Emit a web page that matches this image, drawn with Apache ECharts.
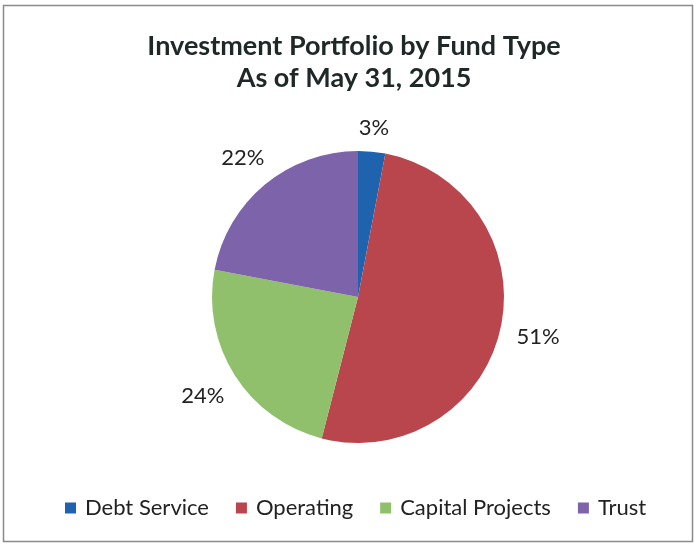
<!DOCTYPE html>
<html>
<head>
<meta charset="utf-8">
<script src="https://cdn.jsdelivr.net/npm/echarts@6/dist/echarts.min.js"></script>
<style>
  html, body { margin: 0; padding: 0; background: #fff; }
  #chart { width: 694px; height: 545px; }
</style>
</head>
<body>
<div id="chart"></div>
<script>
// Fund types and their share of the portfolio (percent)
const fundTypes = ['Debt Service', 'Operating', 'Capital Projects', 'Trust'];
const fundShares = [3, 51, 24, 22];
const fundColors = ['#1f62ad', '#b9464d', '#90c06b', '#7d63a9'];

const titleLines = ['Investment Portfolio by Fund Type', 'As of May 31, 2015'];

const PIE_CENTER = [358, 297];
const PIE_RADIUS = 146;
const LABEL_GAP = 16;

// Mid angle (radians, clockwise from 12 o'clock) of each slice
const total = fundShares.reduce((a, b) => a + b, 0);
const midAngles = [];
let acc = 0;
fundShares.forEach(v => {
  midAngles.push((acc + v / 2) / total * Math.PI * 2);
  acc += v;
});

const chart = echarts.init(document.getElementById('chart'), null, { renderer: 'canvas' });

const option = {
  backgroundColor: '#ffffff',
  animation: false,
  title: {
    text: titleLines.join('\n'),
    left: 349,
    textAlign: 'center',
    top: 25,
    textStyle: {
      fontFamily: 'Lato',
      fontWeight: 'bold',
      fontSize: 27,
      lineHeight: 32,
      color: '#1e2826'
    }
  },
  legend: {
    data: fundTypes,
    bottom: 21,
    left: 60,
    itemWidth: 11,
    itemHeight: 11,
    itemGap: 27,
    icon: 'rect',
    textStyle: {
      fontFamily: 'Lato',
      fontSize: 22,
      color: '#222',
      padding: [0, 0, 0, 4]
    }
  },
  graphic: [{
    type: 'rect',
    shape: { x: 3.5, y: 5.5, width: 689, height: 536 },
    style: { fill: 'none', stroke: '#8a8a8a', lineWidth: 1.5 },
    silent: true,
    z: 100
  }],
  series: [{
    type: 'pie',
    center: PIE_CENTER,
    radius: [0, PIE_RADIUS],
    startAngle: 90,
    clockwise: true,
    avoidLabelOverlap: false,
    label: {
      show: true,
      position: 'outside',
      formatter: '{d}%',
      fontFamily: 'Lato',
      fontSize: 22,
      color: '#222'
    },
    labelLine: { show: false },
    // Place each label just outside its slice, with its box touching a circle
    labelLayout: function (params) {
      const a = midAngles[params.dataIndex];
      const ux = Math.sin(a);
      const uy = -Math.cos(a);
      const w = params.labelRect.width;
      const h = params.labelRect.height;
      const r = PIE_RADIUS + LABEL_GAP + (w / 2) * Math.abs(ux) + (h / 2) * Math.abs(uy) * 0.6;
      return {
        x: PIE_CENTER[0] + r * ux,
        y: PIE_CENTER[1] + r * uy,
        align: 'center',
        verticalAlign: 'middle'
      };
    },
    itemStyle: { borderWidth: 0 },
    emphasis: { disabled: true },
    data: fundTypes.map((name, i) => ({
      name: name,
      value: fundShares[i],
      itemStyle: { color: fundColors[i] }
    }))
  }]
};

chart.setOption(option);
</script>
</body>
</html>
